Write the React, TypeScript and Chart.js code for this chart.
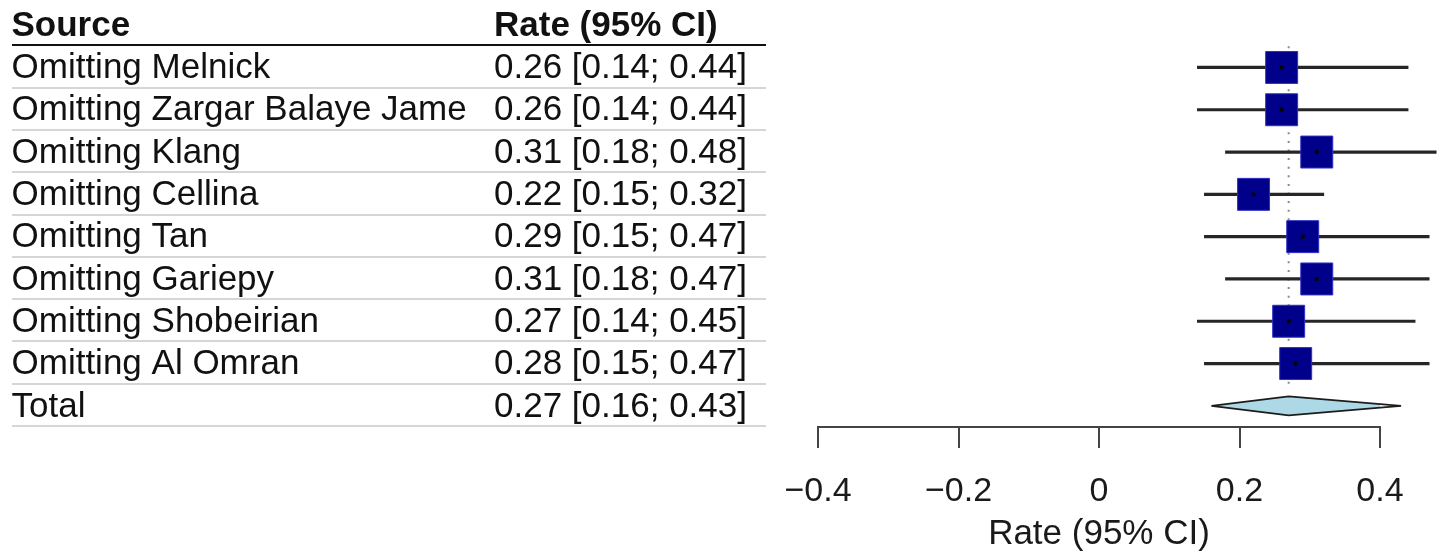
import { useEffect, useRef } from 'react';
import { Chart, registerables } from 'chart.js';

Chart.register(...registerables);

const FONT = '"Liberation Sans", Arial, Helvetica, sans-serif';

// Leave-one-out sensitivity analysis: pooled rate with each study omitted
const studies = [
  'Omitting Melnick',
  'Omitting Zargar Balaye Jame',
  'Omitting Klang',
  'Omitting Cellina',
  'Omitting Tan',
  'Omitting Gariepy',
  'Omitting Shobeirian',
  'Omitting Al Omran',
];
const rates = [0.26, 0.26, 0.31, 0.22, 0.29, 0.31, 0.27, 0.28];
const lowerCI = [0.14, 0.14, 0.18, 0.15, 0.15, 0.18, 0.14, 0.15];
const upperCI = [0.44, 0.44, 0.48, 0.32, 0.47, 0.47, 0.45, 0.47];

// Overall pooled estimate
const totalLabel = 'Total';
const totalRate = 0.27;
const totalLower = 0.16;
const totalUpper = 0.43;

const headers = ['Source', 'Rate (95% CI)'];
const axisTicks = [-0.4, -0.2, 0, 0.2, 0.4];
const axisTitle = 'Rate (95% CI)';

const fmt2 = (v: number) => v.toFixed(2);
const ciText = (r: number, l: number, h: number) => `${fmt2(r)} [${fmt2(l)}; ${fmt2(h)}]`;
const tickText = (v: number) =>
  Math.abs(v) < 1e-9 ? '0' : (v < 0 ? '\u2212' : '') + Math.abs(v).toFixed(1);

// Left-hand table (study names and formatted estimates), aligned to the y scale rows
const tablePlugin = {
  id: 'studyTable',
  afterDraw(chart: any) {
    const { ctx } = chart;
    const ys = chart.scales.y;
    const ruleLeft = 12;
    const ruleRight = 766;
    const colName = 11.5;
    const colRate = 494;
    const nRows = studies.length + 1;

    ctx.save();
    // row separators
    ctx.strokeStyle = '#d6d6d6';
    ctx.lineWidth = 2;
    for (let i = 0; i < nRows; i++) {
      const y = Math.round(ys.getPixelForValue(i + 0.5)) - 1;
      ctx.beginPath();
      ctx.moveTo(ruleLeft, y);
      ctx.lineTo(ruleRight, y);
      ctx.stroke();
    }
    // header rule
    const hy = Math.round(ys.getPixelForValue(-0.5)) - 1;
    ctx.strokeStyle = '#111';
    ctx.beginPath();
    ctx.moveTo(ruleLeft, hy);
    ctx.lineTo(ruleRight, hy);
    ctx.stroke();

    ctx.fillStyle = '#111';
    ctx.textAlign = 'left';
    ctx.textBaseline = 'middle';
    ctx.font = `bold 35px ${FONT}`;
    const headY = ys.getPixelForValue(-1) + 1;
    ctx.fillText(headers[0], colName, headY);
    ctx.fillText(headers[1], colRate, headY);

    ctx.font = `35px ${FONT}`;
    studies.forEach((name, i) => {
      const y = ys.getPixelForValue(i) + 1;
      ctx.fillText(name, colName, y);
      ctx.fillText(ciText(rates[i], lowerCI[i], upperCI[i]), colRate, y);
    });
    const ty = ys.getPixelForValue(studies.length) + 1;
    ctx.fillText(totalLabel, colName, ty);
    ctx.fillText(ciText(totalRate, totalLower, totalUpper), colRate, ty);
    ctx.restore();
  },
};

export default function App() {
  const canvasRef = useRef<HTMLCanvasElement | null>(null);

  useEffect(() => {
    const canvas = canvasRef.current;
    if (!canvas) return;

    const totalRow = studies.length;
    const diamondHalf = 0.225;
    const diamond = [
      { x: totalLower, y: totalRow },
      { x: totalRate, y: totalRow - diamondHalf },
      { x: totalUpper, y: totalRow },
      { x: totalRate, y: totalRow + diamondHalf },
      { x: totalLower, y: totalRow },
    ];
    const points = studies.map((_, i) => ({ x: rates[i], y: i }));

    const chart = new Chart(canvas, {
      type: 'scatter',
      data: {
        datasets: [
          {
            type: 'line',
            label: 'pooled estimate',
            data: [
              { x: totalRate, y: -0.5 },
              { x: totalRate, y: totalRow - 0.5 },
            ],
            borderColor: '#8a8a8a',
            borderWidth: 2,
            borderDash: [2, 6.6],
            pointRadius: 0,
            fill: false,
            order: 5,
            clip: false,
          } as any,
          {
            type: 'bar',
            label: '95% CI',
            indexAxis: 'y',
            data: studies.map((_, i) => ({ x: [lowerCI[i], upperCI[i]], y: i })),
            backgroundColor: '#262626',
            borderWidth: 0,
            barThickness: 2.5,
            order: 4,
            clip: false,
          } as any,
          {
            type: 'line',
            label: 'total',
            data: diamond,
            borderColor: '#1c1c1c',
            borderWidth: 1.8,
            backgroundColor: '#ADD8E6',
            fill: 'shape',
            pointRadius: 0,
            tension: 0,
            order: 3,
            clip: false,
          } as any,
          {
            type: 'scatter',
            label: 'rate',
            data: points,
            pointStyle: 'rect',
            pointRadius: 22.6,
            backgroundColor: '#00008B',
            borderColor: '#3030c8',
            borderWidth: 1,
            order: 2,
            clip: false,
          } as any,
          {
            type: 'scatter',
            label: 'centre',
            data: points,
            pointRadius: 2.2,
            backgroundColor: '#050505',
            borderWidth: 0,
            order: 1,
            clip: false,
          } as any,
        ],
      },
      options: {
        responsive: false,
        animation: false,
        devicePixelRatio: 1,
        events: [],
        layout: { autoPadding: false, padding: { left: 818, right: 60, top: 4, bottom: 0 } },
        plugins: {
          legend: { display: false },
          tooltip: { enabled: false },
        },
        scales: {
          x: {
            type: 'linear',
            min: -0.4,
            max: 0.4,
            beginAtZero: false,
            afterBuildTicks: (scale: any) => {
              scale.ticks = axisTicks.map((v) => ({ value: v }));
            },
            ticks: {
              color: '#1a1a1a',
              font: { size: 34, family: FONT, lineHeight: 1 },
              padding: 27,
              maxRotation: 0,
              autoSkip: false,
              callback: (v: any) => tickText(Number(v)),
            },
            grid: {
              display: true,
              drawOnChartArea: false,
              drawTicks: true,
              tickLength: 21,
              color: '#444',
              lineWidth: 2,
            },
            border: { display: true, color: '#444', width: 2 },
            title: {
              display: true,
              text: axisTitle,
              color: '#1a1a1a',
              font: { size: 35, family: FONT, lineHeight: 1 },
              padding: { top: -19.5, bottom: 2.5 },
            },
          },
          y: {
            type: 'linear',
            display: false,
            reverse: true,
            min: -1.5,
            max: 8.5,
            offset: false,
            grid: { offset: false },
          },
        },
      } as any,
      plugins: [tablePlugin],
    });

    return () => chart.destroy();
  }, []);

  return (
    <div style={{ position: 'absolute', left: 0, top: 0, width: 1440, height: 554, background: '#fff' }}>
      <canvas ref={canvasRef} width={1440} height={554} style={{ display: 'block' }} />
    </div>
  );
}
